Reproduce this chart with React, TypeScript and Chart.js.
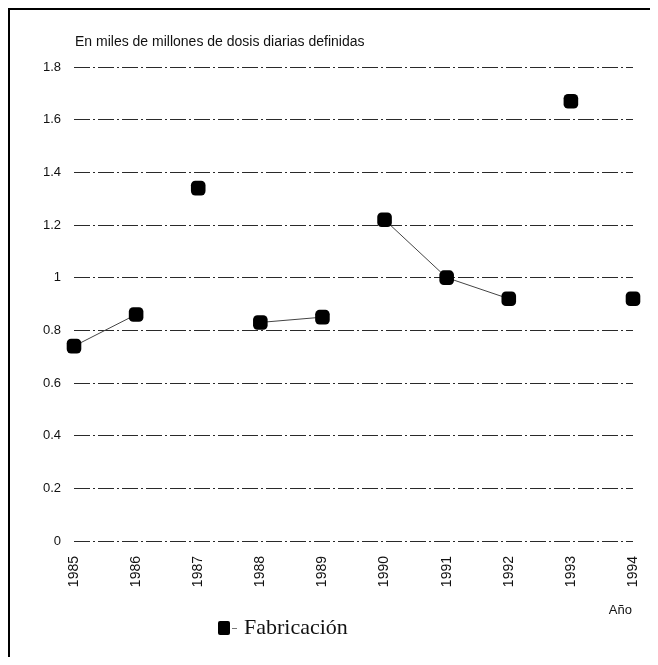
import React, { useEffect, useRef } from "react";
import { Chart, registerables } from "chart.js";

Chart.register(...registerables);

const years = ["1985", "1986", "1987", "1988", "1989", "1990", "1991", "1992", "1993", "1994"];
const fabricacion = [0.74, 0.86, 1.34, 0.83, 0.85, 1.22, 1.0, 0.92, 1.67, 0.92];
// whether the point at index i is joined to the point at index i + 1
const linked = [true, false, false, true, false, true, true, false, false];
const yMin = 0;
const yMax = 1.8;
const yStep = 0.2;
const titleText = "En miles de millones de dosis diarias definidas";
const xAxisLabel = "Año";
const seriesLabel = "Fabricación";

const SANS = '"Liberation Sans", Arial, Helvetica, sans-serif';
const SERIF = '"Liberation Serif", "Times New Roman", serif';

const decor = {
  id: "decor",
  afterDraw(chart: any) {
    const { ctx, chartArea } = chart;
    ctx.save();
    ctx.fillStyle = "#111";
    ctx.font = `14px ${SANS}`;
    ctx.textBaseline = "middle";
    ctx.textAlign = "left";
    ctx.fillText(titleText, chartArea.left + 1, chartArea.top - 25);
    ctx.font = `13px ${SANS}`;
    ctx.textAlign = "right";
    ctx.fillText(xAxisLabel, chartArea.right - 1, chartArea.bottom + 69);

    // legend
    const ly = chartArea.bottom + 87;
    const bx = chartArea.left + 144;
    ctx.fillStyle = "#000";
    ctx.beginPath();
    if ((ctx as any).roundRect) {
      (ctx as any).roundRect(bx, ly - 7, 12, 14, 2);
    } else {
      ctx.rect(bx, ly - 7, 12, 14);
    }
    ctx.fill();
    ctx.strokeStyle = "#777";
    ctx.lineWidth = 1;
    ctx.beginPath();
    ctx.moveTo(bx + 14, ly + 0.5);
    ctx.lineTo(bx + 19, ly + 0.5);
    ctx.stroke();
    ctx.fillStyle = "#111";
    ctx.textAlign = "left";
    ctx.font = `22px ${SERIF}`;
    ctx.fillText(seriesLabel, bx + 26, ly);
    ctx.restore();
  },
};

export default function App() {
  const canvasRef = useRef<HTMLCanvasElement | null>(null);

  useEffect(() => {
    if (!canvasRef.current) return;
    const chart = new Chart(canvasRef.current, {
      type: "line",
      data: {
        labels: years,
        datasets: [
          {
            label: seriesLabel,
            data: fabricacion,
            borderColor: "#555",
            borderWidth: 1,
            tension: 0,
            pointStyle: "rectRounded",
            pointRadius: 8.5,
            pointHoverRadius: 8.5,
            pointBackgroundColor: "#000",
            pointBorderColor: "#000",
            pointBorderWidth: 0,
            clip: false,
            segment: {
              borderColor: (c: any) => (linked[c.p0DataIndex] ? "#444" : "rgba(0,0,0,0)"),
            },
          } as any,
        ],
      },
      options: {
        responsive: false,
        animation: false,
        layout: { autoPadding: false, padding: { top: 57, right: 17, left: 0, bottom: 0 } },
        plugins: {
          legend: { display: false },
          tooltip: { enabled: false },
          title: { display: false },
        },
        scales: {
          x: {
            type: "category",
            offset: false,
            grid: { display: false, drawTicks: false },
            border: { display: false },
            ticks: {
              autoSkip: false,
              minRotation: 90,
              maxRotation: 90,
              padding: 15,
              color: "#111",
              font: { family: SANS, size: 14 },
            },
            afterFit: (s: any) => {
              s.height = 116;
              s.paddingLeft = 0;
              s.paddingRight = 0;
            },
          },
          y: {
            min: yMin,
            max: yMax,
            grid: { color: "#2a2a2a", lineWidth: 1, drawTicks: false },
            border: { display: false, dash: [16, 3, 2, 3] },
            ticks: {
              stepSize: yStep,
              padding: 13,
              color: "#111",
              font: { family: SANS, size: 13 },
              callback: (v: any) => String(parseFloat(Number(v).toFixed(1))),
            },
            afterFit: (s: any) => {
              s.width = 64;
            },
          },
        },
      },
      plugins: [decor],
    });
    return () => chart.destroy();
  }, []);

  return (
    <div
      style={{
        width: 640,
        height: 647,
        borderTop: "2px solid #000",
        borderLeft: "2px solid #000",
        background: "#fff",
      }}
    >
      <canvas ref={canvasRef} width={640} height={647} style={{ display: "block" }} />
    </div>
  );
}
